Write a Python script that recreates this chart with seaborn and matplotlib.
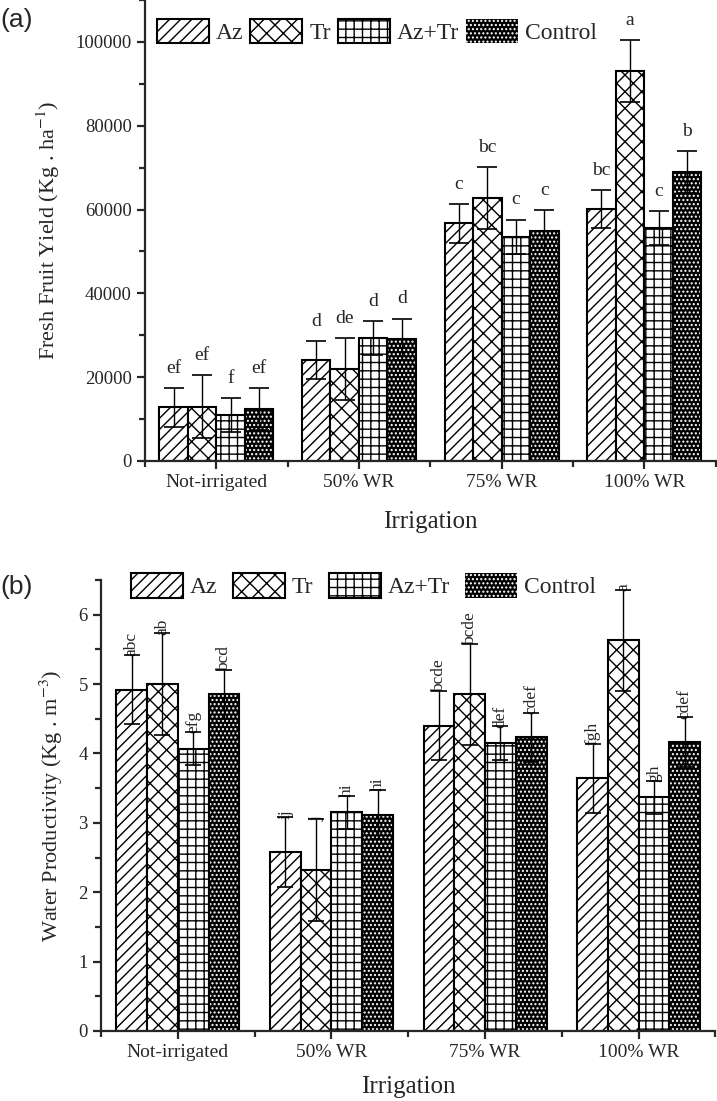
import matplotlib
matplotlib.use("Agg")
import matplotlib.pyplot as plt
from matplotlib.patches import Patch, Rectangle
from matplotlib.ticker import MultipleLocator, FixedLocator
import numpy as np
import pandas as pd
import seaborn as sns

irrigation = ["Not-irrigated", "50% WR", "75% WR", "100% WR"]
treatments = ["Az", "Tr", "Az+Tr", "Control"]

# (a) fresh fruit yield, Kg/ha
yield_az = [12800, 24100, 56700, 60100]
yield_tr = [13000, 21900, 62800, 93100]
yield_aztr = [11000, 29300, 53500, 55600]
yield_ctrl = [12500, 29000, 54900, 69000]
yield_err_az = [4600, 4600, 4600, 4600]
yield_err_tr = [7400, 7400, 7400, 7400]
yield_err_aztr = [4100, 4100, 4100, 4100]
yield_err_ctrl = [5000, 5000, 5000, 5000]
yield_lab_az = ["ef", "d", "c", "bc"]
yield_lab_tr = ["ef", "de", "bc", "a"]
yield_lab_aztr = ["f", "d", "c", "c"]
yield_lab_ctrl = ["ef", "d", "c", "b"]

# (b) water productivity, Kg/m3
wp_az = [4.92, 2.58, 4.40, 3.64]
wp_tr = [5.00, 2.32, 4.85, 5.63]
wp_aztr = [4.07, 3.15, 4.15, 3.37]
wp_ctrl = [4.85, 3.12, 4.23, 4.16]
wp_err_az = [0.50, 0.50, 0.50, 0.50]
wp_err_tr = [0.73, 0.73, 0.73, 0.73]
wp_err_aztr = [0.24, 0.24, 0.24, 0.24]
wp_err_ctrl = [0.36, 0.36, 0.36, 0.36]
wp_lab_az = ["abc", "ij", "bcde", "fgh"]
wp_lab_tr = ["ab", "j", "bcde", "a"]
wp_lab_aztr = ["efg", "hi", "def", "gh"]
wp_lab_ctrl = ["bcd", "hi", "cdef", "cdef"]

hatches = {"Az": "///", "Tr": "xx", "Az+Tr": "++", "Control": "...."}

sns.set_style("ticks")
plt.rcParams['font.family'] = ['Liberation Serif', 'DejaVu Serif']
plt.rcParams['mathtext.fontset'] = 'stix'
plt.rcParams['hatch.linewidth'] = 1.0
plt.rcParams['axes.linewidth'] = 1.6


def style_bar(bar, trt):
    if trt == "Control":
        bar.set_facecolor("black")
        bar.set_edgecolor("white")
        bar.set_hatch(hatches[trt])
        bar.set_linewidth(0)
    else:
        bar.set_facecolor("white")
        bar.set_edgecolor("black")
        bar.set_hatch(hatches[trt])
        bar.set_linewidth(1.5)


def draw_panel(ax, vals, errs, labs, ylim, major, rotated):
    df = pd.DataFrame({
        "Irrigation": irrigation * 4,
        "Treatment": np.repeat(treatments, 4),
        "value": np.concatenate(vals),
    })
    sns.barplot(data=df, x="Irrigation", y="value", hue="Treatment", order=irrigation,
                hue_order=treatments, errorbar=None, width=0.8, legend=False, ax=ax)
    for k, trt in enumerate(treatments):
        cont = ax.containers[k]
        xs, tops = [], []
        for bar in cont:
            style_bar(bar, trt)
            if trt == "Control":
                # dark fill with white dots, black outline on top
                ax.add_patch(Rectangle(bar.get_xy(), bar.get_width(), bar.get_height(),
                                       fill=False, ec="black", lw=1.5, zorder=bar.get_zorder() + 0.1))
            xs.append(bar.get_x() + bar.get_width() / 2)
            tops.append(bar.get_height())
        xs = np.array(xs)
        tops = np.array(tops)
        e = np.array(errs[k])
        ax.errorbar(xs, tops, yerr=e, fmt="none", ecolor="black", elinewidth=1.0,
                    capsize=6 if rotated else 7, capthick=1.2, zorder=5)
        for x, t, ee, lab in zip(xs, tops, e, labs[k]):
            if rotated:
                ax.annotate(lab, (x, t + ee), xytext=(0, -1), textcoords="offset points",
                            rotation=90, ha="center", va="bottom", fontsize=12.5)
            else:
                ax.annotate(lab, (x, t + ee), xytext=(0, 8), textcoords="offset points",
                            ha="center", va="bottom", fontsize=14)
    ax.set_ylim(*ylim)
    ax.set_xlim(-0.5, 3.5)
    ax.yaxis.set_major_locator(MultipleLocator(major))
    ax.yaxis.set_minor_locator(MultipleLocator(major / 2))
    ax.xaxis.set_minor_locator(FixedLocator([-0.5, 0.5, 1.5, 2.5, 3.5]))
    ax.tick_params(axis="y", which="major", direction="out", length=6, width=1.6, labelsize=13.5)
    ax.tick_params(axis="x", which="major", direction="out", length=6, width=1.6, labelsize=14)
    ax.tick_params(axis="both", which="minor", direction="out", length=4, width=1.6)
    sns.despine(ax=ax)


fig = plt.figure(figsize=(7.17, 11.01), dpi=100)
ax1 = fig.add_axes([0.2022, 0.5813, 0.7958, 0.4187])
ax2 = fig.add_axes([0.1409, 0.0636, 0.8570, 0.4096])

draw_panel(ax1, [yield_az, yield_tr, yield_aztr, yield_ctrl],
           [yield_err_az, yield_err_tr, yield_err_aztr, yield_err_ctrl],
           [yield_lab_az, yield_lab_tr, yield_lab_aztr, yield_lab_ctrl],
           (0, 110000), 20000, False)
ax1.set_ylabel("Fresh Fruit Yield (Kg . ha$^{-1}$)", fontsize=16, labelpad=10)
ax1.set_xlabel("Irrigation", fontsize=18, labelpad=14)

draw_panel(ax2, [wp_az, wp_tr, wp_aztr, wp_ctrl],
           [wp_err_az, wp_err_tr, wp_err_aztr, wp_err_ctrl],
           [wp_lab_az, wp_lab_tr, wp_lab_aztr, wp_lab_ctrl],
           (0, 6.5), 1, True)
ax2.set_ylabel("Water Productivity (Kg . m$^{-3}$)", fontsize=16, labelpad=10)
ax2.set_xlabel("Irrigation", fontsize=18, labelpad=11)

handles = []
for trt in treatments:
    if trt == "Control":
        handles.append(Patch(facecolor="black", edgecolor="white", hatch=hatches[trt], lw=0))
    else:
        handles.append(Patch(facecolor="white", edgecolor="black", hatch=hatches[trt], lw=1.5))

for ax, anchor, cs in [(ax1, (0.212, 0.987), 0.3), (ax2, (0.176, 0.4835), 0.65)]:
    leg = ax.legend(handles, treatments, loc="upper left", bbox_to_anchor=anchor,
                    bbox_transform=fig.transFigure, ncol=4, frameon=False, fontsize=17,
                    handlelength=2.2, handleheight=1.2, columnspacing=cs, handletextpad=0.3,
                    borderaxespad=0, borderpad=0.2)

fig.text(0.0, 0.993, "(a)", fontsize=19, family="Liberation Sans", va="top", ha="left")
fig.text(0.0, 0.478, "(b)", fontsize=19, family="Liberation Sans", va="top", ha="left")

fig.savefig("out.png", dpi=100)
